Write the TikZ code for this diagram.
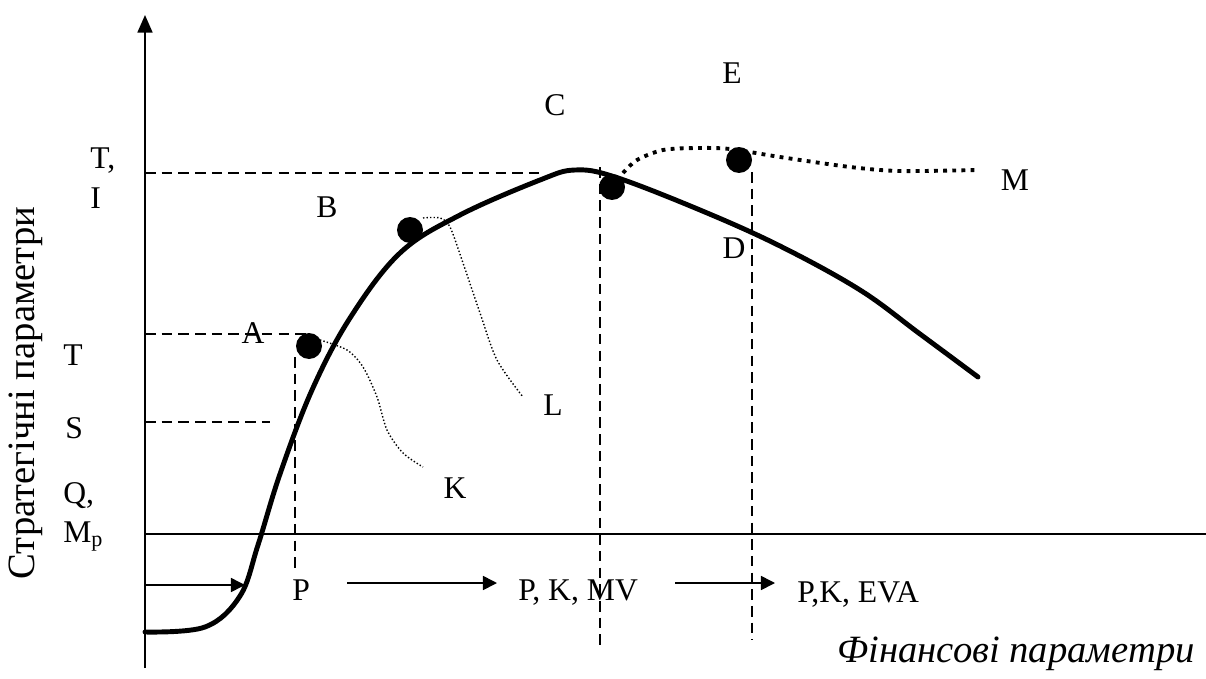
\documentclass[tikz,border=0pt]{standalone}
\usepackage{fontspec}
\setmainfont{Liberation Serif}
\usepackage{tikz}
\usetikzlibrary{arrows.meta}

\tikzset{
  lbl/.style={inner sep=0pt, font=\fontsize{18}{20}\selectfont},
  axlbl/.style={inner sep=0pt, font=\fontsize{22}{24}\selectfont},
  bigdot/.style={circle, fill=black, inner sep=0pt, minimum size=0.52cm},
  guide/.style={line width=0.9pt, dash pattern=on 6pt off 3.5pt},
  flow/.style={line width=0.9pt, -{Triangle[length=8pt,width=8pt]}},
  finedots/.style={line width=0.8pt, dash pattern=on 0.8pt off 1.2pt},
  bigdots/.style={line width=2.2pt, dash pattern=on 2.2pt off 3pt}
}

\begin{document}
\begin{tikzpicture}[x=0.02cm,y=-0.02cm]
  \useasboundingbox (0,0) rectangle (1206,679);
  % axes
  \draw[line width=1.1pt,-{Triangle[length=10pt,width=8.5pt]}] (145,668) -- (145,15);
  \draw[line width=0.8pt] (145,534) -- (1206,534);
  \node[axlbl, rotate=90] (ylab) at (26,393) {Стратегічні параметри};
  \node[axlbl, anchor=base east] (xlab) at (1195,662) {\itshape Фінансові параметри};
  % levels on the vertical axis
  \node[lbl, anchor=base west] (lTI) at (90,168) {T,};
  \node[lbl, anchor=base west] (lI) at (90,208) {I};
  \node[lbl, anchor=base west] (lT) at (63,365) {T};
  \node[lbl, anchor=base west] (lS) at (65,438) {S};
  \node[lbl, anchor=base west] (lQ) at (63,503) {Q,};
  \node[lbl, anchor=base west] (lM) at (63,542) {M\textsubscript{p}};
  % points
  \node[bigdot] (dA) at (309,346) {};
  \node[bigdot] (dB) at (410,230) {};
  \node[bigdot] (dC) at (612,187) {};
  \node[bigdot] (dE) at (739,160) {};
  % guides
  \coordinate (gTI) at (145,173);
  \coordinate (gT) at (145,334);
  \coordinate (gS) at (145,422);
  \draw[guide] (gTI) -- (543,173);
  \draw[guide] (gT) -- (gT -| dA);
  \draw[guide] (gS) -- (270,422);
  \draw[guide] (295,357) -- (295,573);
  \draw[guide] (600,167) -- (600,647);
  \draw[guide] (752,172) -- (752,640);
  % curves
  \draw[line width=2.8pt, line cap=round] plot[smooth, tension=0.6] coordinates {
    (145,632) (205,627) (240,596) (258,545) (280,474) (312,390)
    (350,318) (400,253) (460,215) (540,180) (575,170) (615,177)
    (700,210) (780,246) (860,290) (920,334) (978,377)};
  \draw[bigdots] plot[smooth] coordinates {
    (623,173) (637,160) (663,150) (697,148) (730,149) (780,157) (850,167)
    (900,171) (977,170)};
  \draw[finedots] plot[smooth] coordinates {
    (320,340) (347,350) (363,367) (377,397) (387,430) (403,453) (423,467)};
  \draw[finedots] plot[smooth] coordinates {
    (423,218) (440,218) (450,227) (463,263) (480,313) (497,360) (523,397)};
  % letters
  \node[lbl] (lA) at (253,333) {A};
  \node[lbl] (lB) at (327,207) {B};
  \node[lbl] (lC) at (555,105) {C};
  \node[lbl] (lD) at (734,248) {D};
  \node[lbl] (lE) at (732,73) {E};
  \node[lbl] (lK) at (455,488) {K};
  \node[lbl] (lL) at (553,405) {L};
  \node[lbl] (lMM) at (1015,180) {M};
  % stages
  \node[lbl, anchor=base west] (sP) at (292,600) {P};
  \node[lbl, anchor=base west] (sPKMV) at (518,600) {P, K, MV};
  \node[lbl, anchor=base west] (sPKEVA) at (797,602) {P,K, EVA};
  \coordinate (f0) at (145,585);
  \coordinate (f1) at (245,585);
  \coordinate (f2) at (347,583);
  \coordinate (f3) at (497,583);
  \coordinate (f4) at (675,583);
  \coordinate (f5) at (775,583);
  \draw[flow] (f0) -- (f1);
  \draw[flow] (f2) -- (f3);
  \draw[flow] (f4) -- (f5);
\end{tikzpicture}
\end{document}
